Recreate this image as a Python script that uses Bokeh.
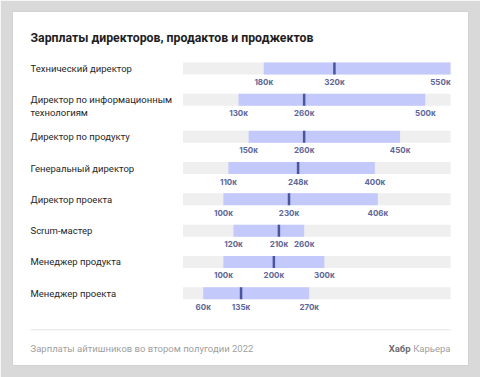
from bokeh.plotting import figure
from bokeh.models import Range1d, ColumnDataSource
from bokeh.core.properties import value
from bokeh.embed import file_html
from bokeh.resources import INLINE

# ---- data ----
title = "Зарплаты директоров, продактов и проджектов"
roles = [
    "Технический директор",
    "Директор по информационным\nтехнологиям",
    "Директор по продукту",
    "Генеральный директор",
    "Директор проекта",
    "Scrum-мастер",
    "Менеджер продукта",
    "Менеджер проекта",
]
low = [180, 130, 150, 110, 100, 120, 100, 60]
median = [320, 260, 260, 248, 230, 210, 200, 135]
high = [550, 500, 450, 400, 406, 260, 300, 270]
scale_min = 20
scale_max = 550
footer_left = "Зарплаты айтишников во втором полугодии 2022"
footer_brand = "Хабр"
footer_brand2 = "Карьера"

# ---- layout helpers ----
W, H = 480, 377
BL, BR, BT, BB = 12, 12, 11, 12
FW, FH = W - BL - BR, H - BT - BB
PX_PER_K = 0.5048
X0_PX = 160.4            # frame px of value 0
ROW_PX = 31.3            # px per row unit
ROW0_PX = 57.0           # frame px of first row centre
EXTRA_LINE = 0.18        # extra rows for each extra label line

x_start = -X0_PX / PX_PER_K
x_end = (FW - X0_PX) / PX_PER_K
y_top = -ROW0_PX / ROW_PX
y_bot = (FH - ROW0_PX) / ROW_PX

def xd(px):
    return x_start + px / PX_PER_K

def yd(px):
    return y_top + px / ROW_PX

# row positions from number of label lines
ypos = []
acc = 0.0
for i, r in enumerate(roles):
    ypos.append(i + acc)
    acc += EXTRA_LINE * (r.count("\n"))

bar_h = 12 / ROW_PX

p = figure(width=W, height=H, output_backend="svg", toolbar_location=None,
           x_range=Range1d(x_start, x_end), y_range=Range1d(y_bot, y_top),
           x_axis_location=None, y_axis_location=None,
           min_border_left=BL, min_border_right=BR, min_border_top=BT, min_border_bottom=BB)
p.grid.visible = False
p.outline_line_color = "#d2d2d2"
p.background_fill_color = "#ffffff"
p.border_fill_color = "#d9d9d9"

n = len(roles)
src = ColumnDataSource(dict(y=ypos, low=low, med=median, high=high,
                            tmin=[scale_min] * n, tmax=[scale_max] * n,
                            y0=[y - bar_h / 2 for y in ypos],
                            y1=[y + bar_h / 2 for y in ypos]))
# track
p.hbar(y="y", left="tmin", right="tmax", height=bar_h, source=src,
       fill_color="#efefef", line_color=None)
# range
p.hbar(y="y", left="low", right="high", height=bar_h, source=src,
       fill_color="#c4c9fb", line_color=None)
# median
p.segment(x0="med", x1="med", y0="y0", y1="y1",
          source=src, line_color="#4b559c", line_width=2.5)

# value labels
vx, vy, vt, va = [], [], [], []
for i in range(n):
    for v in (low[i], median[i], high[i]):
        vx.append(v)
        vy.append(ypos[i] + 13.5 / ROW_PX)
        vt.append(f"{v}к")
        va.append("right" if v >= scale_max else "center")
p.text(x=vx, y=vy, text=vt, text_align=va, text_baseline="middle",
       text_font=value("Inter"), text_font_style="bold", text_font_size="8px",
       text_color="#5d6699")

# row labels
lx, ly, lt = [], [], []
for i, r in enumerate(roles):
    for j, line in enumerate(r.split("\n")):
        lx.append(xd(18))
        ly.append(ypos[i] + j * 12.5 / ROW_PX)
        lt.append(line)
p.text(x=lx, y=ly, text=lt, text_align="left", text_baseline="middle",
       text_font=value("Roboto"), text_font_size="9.5px", text_color="#262626")

# title
p.text(x=[xd(18)], y=[yd(26)], text=[title], text_align="left", text_baseline="middle",
       text_font=value("Roboto"), text_font_style="bold", text_font_size="12.3px",
       text_color="#1e1e1e")

# footer separator
p.segment(x0=[xd(18)], x1=[xd(438)], y0=[yd(318.3)], y1=[yd(318.3)],
          line_color="#e4e4e4", line_width=1)

p.text(x=[xd(18)], y=[yd(336.7)], text=[footer_left], text_align="left",
       text_baseline="middle", text_font=value("Roboto"), text_font_size="9.5px",
       text_color="#a0a0a0")
p.text(x=[xd(438)], y=[yd(336.7)], text=[footer_brand2], text_align="right",
       text_baseline="middle", text_font=value("Roboto"), text_font_size="9.5px",
       text_color="#a0a0a0")
p.text(x=[xd(438 - 40)], y=[yd(336.7)], text=[footer_brand], text_align="right",
       text_baseline="middle", text_font=value("Roboto"), text_font_style="bold",
       text_font_size="9.5px", text_color="#6e6e6e")

open("out.html", "w").write(file_html(p, INLINE))
